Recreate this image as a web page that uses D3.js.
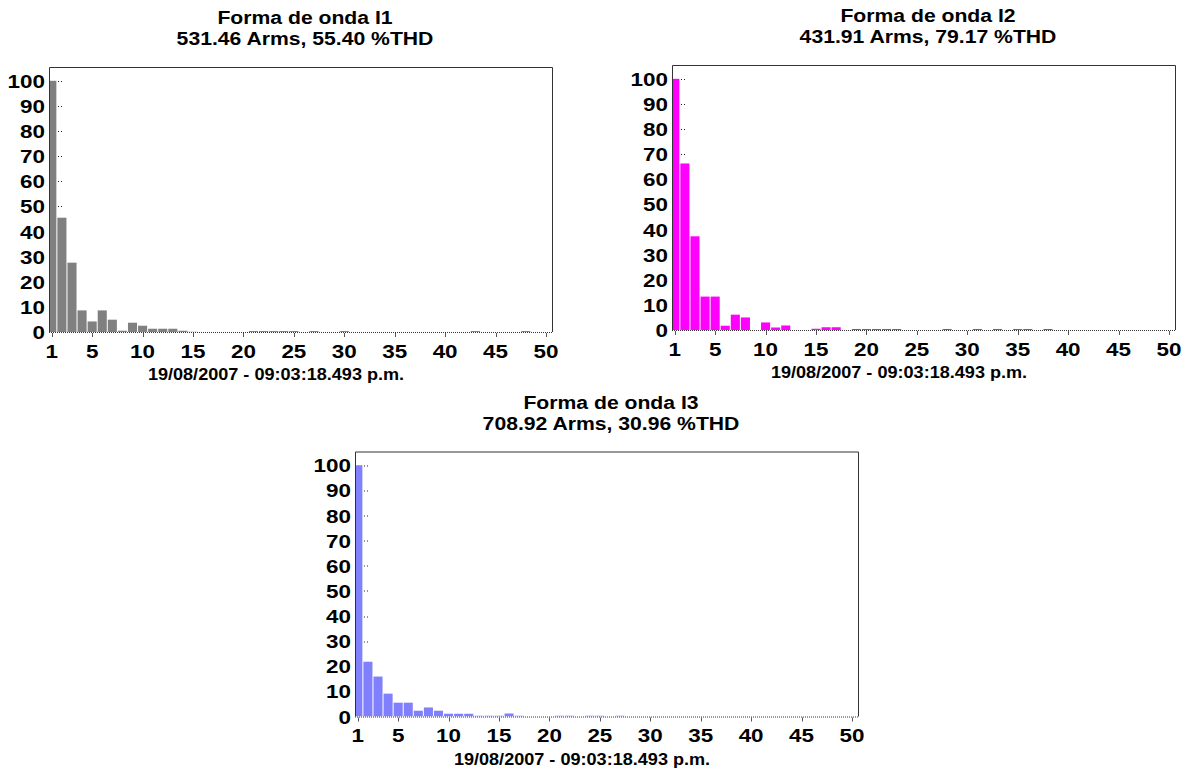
<!DOCTYPE html>
<html>
<head>
<meta charset="utf-8">
<script src="https://cdn.jsdelivr.net/npm/d3@7"></script>
<style>
  html, body { margin: 0; padding: 0; background: #fff; }
  svg { display: block; }
  text { font-family: "Liberation Sans", Arial, Helvetica, sans-serif; font-weight: bold; fill: #000; }
</style>
</head>
<body>
<svg id="chart" width="1185" height="774"></svg>
<script>
// Harmonic orders 1..50
const harmonics = d3.range(1, 51);

// Harmonic magnitudes, % of fundamental
const i1Values = [100, 45.5, 27.6, 8.6, 4.2, 8.6, 4.9, 0.5, 3.7, 2.5,
  1.3, 1.3, 1.3, 0.5, 0.1, 0, 0, 0, 0, 0,
  0.4, 0.4, 0.4, 0.4, 0.4, 0, 0.4, 0, 0, 0.4,
  0, 0, 0, 0, 0, 0, 0, 0, 0, 0,
  0, 0, 0.4, 0, 0, 0, 0, 0.4, 0, 0];

const i2Values = [100, 66.3, 37.3, 13.3, 13.3, 1.7, 6.1, 5.0, 0, 3.0,
  1.0, 1.8, 0, 0, 0.5, 1.1, 1.1, 0, 0.4, 0.4,
  0.4, 0.4, 0.4, 0, 0, 0, 0, 0.4, 0, 0,
  0.4, 0, 0.4, 0, 0.4, 0.4, 0, 0.4, 0, 0,
  0, 0, 0, 0, 0, 0, 0, 0, 0, 0];

const i3Values = [100, 21.8, 15.9, 9.1, 5.5, 5.5, 2.3, 3.6, 2.3, 1.1,
  1.1, 1.1, 0.3, 0.3, 0.3, 1.2, 0.3, 0, 0, 0,
  0.3, 0.3, 0, 0.3, 0.3, 0, 0.3, 0, 0, 0,
  0, 0, 0, 0, 0, 0, 0, 0, 0, 0,
  0, 0, 0, 0, 0, 0, 0, 0, 0, 0];

const yTicks = [0, 10, 20, 30, 40, 50, 60, 70, 80, 90, 100];
const xTicks = [1, 5, 10, 15, 20, 25, 30, 35, 40, 45, 50];

const titles = ["Forma de onda I1", "Forma de onda I2", "Forma de onda I3"];
const subtitles = ["531.46 Arms, 55.40 %THD", "431.91 Arms, 79.17 %THD", "708.92 Arms, 30.96 %THD"];
const stamp = "19/08/2007 - 09:03:18.493 p.m.";

const colors = ["#808080", "#ff00ff", "#8080ff"];

// Panel placement (plot box origin)
const panels = [
  { left: 49, top: 67, values: i1Values },
  { left: 672, top: 65, values: i2Values },
  { left: 355, top: 451.5, values: i3Values }
];

const W = 504, H = 265;
const svg = d3.select("#chart");

function stretchedText(g, x, y, str, size, sx, anchor) {
  return g.append("text")
    .attr("transform", `translate(${x},${y}) scale(${sx},1)`)
    .attr("text-anchor", anchor)
    .style("font-size", size + "px")
    .text(str);
}

panels.forEach((p, i) => {
  const g = svg.append("g").attr("transform", `translate(${p.left},${p.top})`);
  const x = d3.scaleLinear().domain([0.72, 50.7]).range([0, W]);
  const y = d3.scaleLinear().domain([0, 105.5]).range([H, 0]);
  const unit = x(2) - x(1);

  const clipId = "clip" + i;
  g.append("clipPath").attr("id", clipId)
    .append("rect").attr("x", 0).attr("y", 0).attr("width", W).attr("height", H);

  // dotted inner y ticks
  g.append("g").selectAll("line").data(yTicks.filter(t => t > 0)).join("line")
    .attr("x1", 0).attr("x2", 13)
    .attr("y1", d => Math.round(y(d)) + 0.5).attr("y2", d => Math.round(y(d)) + 0.5)
    .attr("stroke", "#222").attr("stroke-width", 1).attr("stroke-dasharray", "1,2");

  // bars
  const data = harmonics.map((h, k) => ({ h, v: p.values[k] })).filter(d => d.v > 0);
  g.append("g").attr("clip-path", `url(#${clipId})`)
    .selectAll("rect").data(data).join("rect")
    .attr("x", d => x(d.h) - unit / 2 + 0.5)
    .attr("width", unit - 1)
    .attr("y", d => y(d.v))
    .attr("height", d => H - y(d.v))
    .attr("fill", colors[i]);

  // box: left, top, right solid
  g.append("path")
    .attr("d", `M0.5,${H} V0.5 H${W - 0.5} V${H}`)
    .attr("fill", "none").attr("stroke", "#333").attr("stroke-width", 1);

  // dotted baseline
  g.append("line")
    .attr("x1", 0).attr("x2", W)
    .attr("y1", H + 0.5).attr("y2", H + 0.5)
    .attr("stroke", "#333").attr("stroke-width", 1).attr("stroke-dasharray", "1,1");

  // x tick marks
  g.append("g").selectAll("line").data(xTicks).join("line")
    .attr("x1", d => Math.round(x(d)) + 0.5).attr("x2", d => Math.round(x(d)) + 0.5)
    .attr("y1", H + 1).attr("y2", H + 5)
    .attr("stroke", "#555").attr("stroke-width", 1);

  // y tick labels
  yTicks.forEach(t => stretchedText(g, -4, y(t) + 7, String(t), 19, 1.18, "end"));

  // x tick labels
  xTicks.forEach(t => stretchedText(g, x(t), H + 25.5, String(t), 19, 1.18, "middle"));

  // titles
  stretchedText(g, W / 2 + 4, -43, titles[i], 17.5, 1.21, "middle");
  stretchedText(g, W / 2 + 4, -22, subtitles[i], 17.5, 1.21, "middle");

  // time stamp
  stretchedText(g, W / 2 - 25, H + 48, stamp, 16.3, 1.11, "middle");
});
</script>
</body>
</html>
